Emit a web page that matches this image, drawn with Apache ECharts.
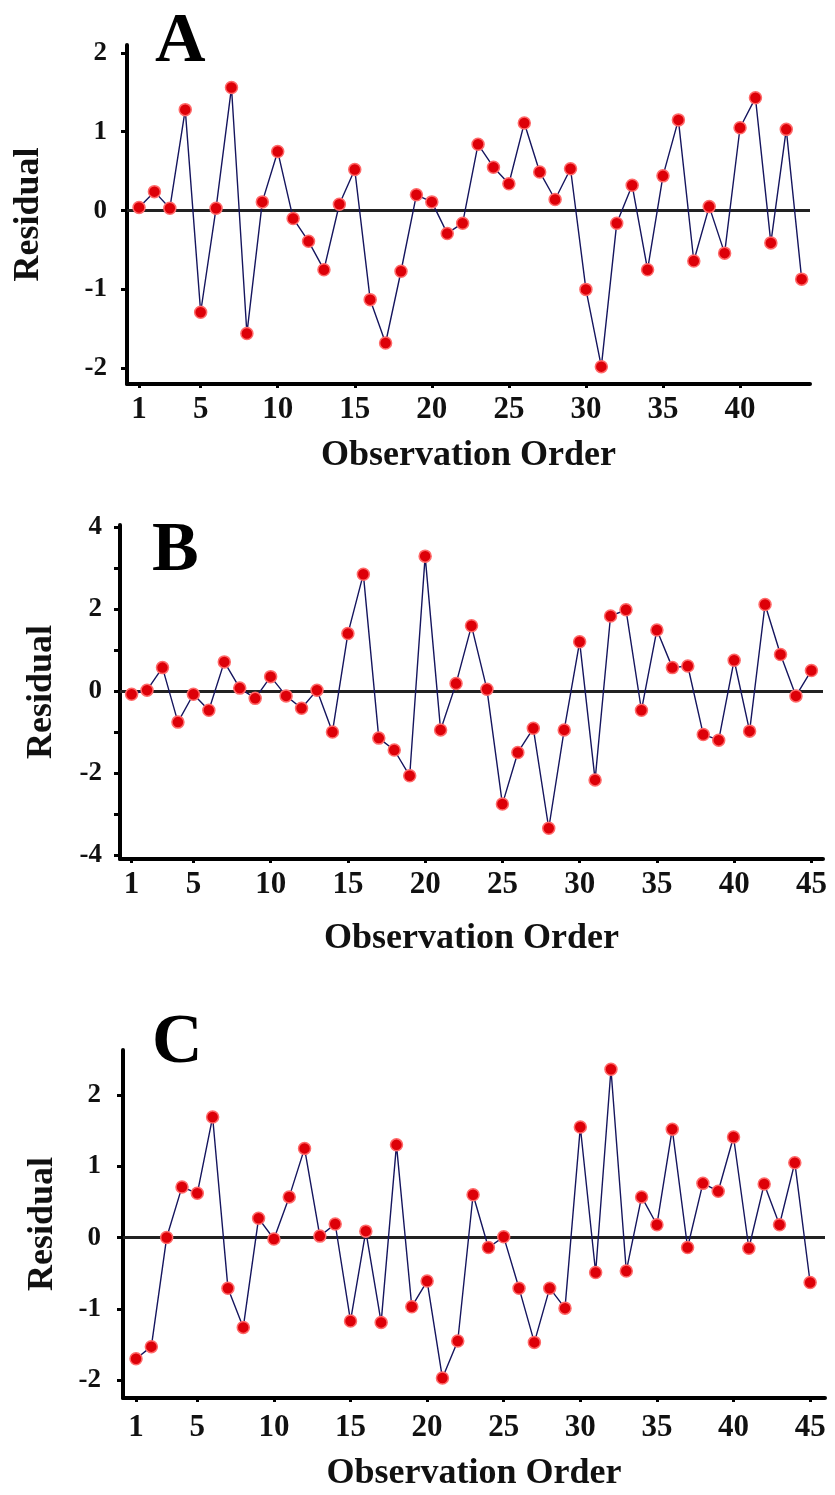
<!DOCTYPE html>
<html>
<head>
<meta charset="utf-8">
<script src="https://cdn.jsdelivr.net/npm/echarts@6/dist/echarts.min.js"></script>
<style>
html,body{margin:0;padding:0;background:#fff;}
#chart{width:835px;height:1495px;}
</style>
</head>
<body>
<div id="chart"></div>
<script>
// Residuals by observation order
const residA = [0.04,0.24,0.03,1.28,-1.29,0.03,1.56,-1.56,0.11,0.75,
  -0.10,-0.39,-0.75,0.08,0.52,-1.13,-1.68,-0.77,0.20,0.11,
  -0.29,-0.16,0.84,0.55,0.34,1.11,0.49,0.14,0.53,-1.00,
  -1.98,-0.16,0.32,-0.75,0.44,1.15,-0.64,0.05,-0.54,1.05,
  1.43,-0.41,1.03,-0.87];
const residB = [-0.08,0.02,0.57,-0.76,-0.08,-0.47,0.71,0.07,-0.18,0.35,
  -0.12,-0.42,0.02,-1.00,1.40,2.85,-1.15,-1.44,-2.07,3.29,
  -0.95,0.18,1.59,0.04,-2.76,-1.50,-0.91,-3.35,-0.95,1.20,
  -2.17,1.83,1.98,-0.47,1.49,0.57,0.61,-1.06,-1.20,0.75,
  -0.98,2.11,0.89,-0.12,0.50];
const residC = [-1.70,-1.53,0.00,0.71,0.62,1.69,-0.71,-1.26,0.27,-0.02,
  0.57,1.25,0.02,0.19,-1.17,0.09,-1.19,1.30,-0.97,-0.61,
  -1.97,-1.45,0.60,-0.14,0.01,-0.71,-1.47,-0.71,-0.99,1.55,
  -0.49,2.36,-0.47,0.57,0.18,1.52,-0.14,0.76,0.65,1.41,
  -0.15,0.75,0.18,1.05,-0.63];

const panelLetters = ['A','B','C'];
const xTicksA = [1,5,10,15,20,25,30,35,40];
const xTicksBC = [1,5,10,15,20,25,30,35,40,45];
const yTicksA = [-2,-1,0,1,2];
const yTicksB = [-4,-2,0,2,4];
const yTickMarksB = [-4,-3,-2,-1,0,1,2,3,4];
const yTicksC = [-2,-1,0,1,2];
const xName = 'Observation Order';
const yName = 'Residual';

const SERIF = '"Liberation Serif","Times New Roman",serif';
const toPts = arr => arr.map((v,i)=>[i+1,v]);

const grids = [
  {left:127, right:25, top:45, height:339},
  {left:120, right:12, top:525, height:334},
  {left:123, right:10, top:1050, height:348}
];
const xRanges = [[0.22,44.54],[0.25,45.75],[0.15,45.97]];
const yRanges = [[-2.2,2.1],[-4.1,4.05],[-2.25,2.63]];
const xTickSets = [xTicksA, xTicksBC, xTicksBC];
const yLabelSets = [yTicksA, yTicksB, yTicksC];
const yTickSets = [yTicksA, yTickMarksB, yTicksC];
const yNameGaps = [80, 60, 62];
const xNameGaps = [54, 62, 58];
const xLabelMargins = [10, 10, 14];
const yLabelMargins = [20, 18, 22];
const datasets = [residA, residB, residC];

const axisLine = {show:true, onZero:false, lineStyle:{color:'#000', width:4}};

const option = {
  backgroundColor:'#fff',
  animation:false,
  title: panelLetters.map((t,i)=>({
    text:t, left:[150,147,147][i], top:[3,512,1004][i],
    textStyle:{fontFamily:SERIF, fontWeight:'bold', fontSize:70, color:'#000'}
  })),
  grid: grids,
  xAxis: grids.map((g,i)=>({
    type:'value', gridIndex:i, min:xRanges[i][0], max:xRanges[i][1],
    axisLine: axisLine,
    axisTick:{show:true, length:4, inside:false, customValues:xTickSets[i], lineStyle:{color:'#000',width:3}},
    axisLabel:{customValues:xTickSets[i], margin:xLabelMargins[i], color:'#111',
      fontFamily:SERIF, fontWeight:'bold', fontSize:31},
    splitLine:{show:false},
    name:xName, nameLocation:'middle', nameGap:xNameGaps[i],
    nameTextStyle:{fontFamily:SERIF, fontWeight:'bold', fontSize:36, color:'#111'}
  })),
  yAxis: grids.map((g,i)=>({
    type:'value', gridIndex:i, min:yRanges[i][0], max:yRanges[i][1],
    axisLine: axisLine,
    axisTick:{show:true, length:6, customValues:yTickSets[i], lineStyle:{color:'#000',width:3}},
    axisLabel:{customValues:yLabelSets[i], margin:yLabelMargins[i], color:'#111',
      fontFamily:SERIF, fontWeight:'bold', fontSize:27},
    splitLine:{show:false},
    name:yName, nameLocation:'middle', nameGap:yNameGaps[i], nameRotate:90,
    nameTextStyle:{fontFamily:SERIF, fontWeight:'bold', fontSize:36, color:'#111'}
  })),
  series: datasets.map((d,i)=>({
    type:'line', xAxisIndex:i, yAxisIndex:i, data:toPts(d),
    symbol:'circle', symbolSize:12,
    lineStyle:{color:'#15155e', width:1.4},
    itemStyle:{color:'#dd0008', borderColor:'#ff6a6a', borderWidth:1.5},
    z:3,
    markLine:{silent:true, symbol:['none','none'], label:{show:false},
      lineStyle:{color:'#222', width:3, type:'solid'},
      data:[{yAxis:0}], z:2}
  }))
};

echarts.init(document.getElementById('chart'), null, {renderer:'canvas'}).setOption(option);
</script>
</body>
</html>
